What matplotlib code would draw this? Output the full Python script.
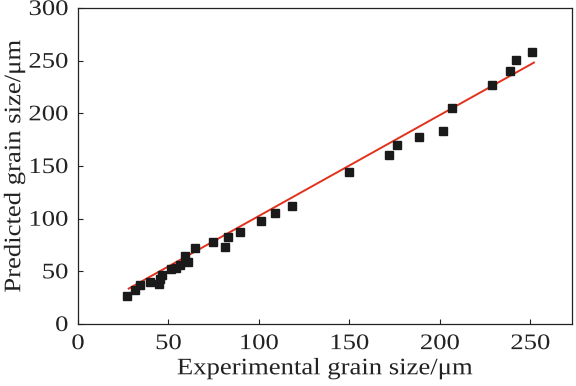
import matplotlib
matplotlib.use("Agg")
import matplotlib.pyplot as plt
import numpy as np
from matplotlib.patheffects import AbstractPathEffect
from matplotlib.transforms import Affine2D

exp_size = [27.2, 31.4, 34.3, 39.9, 44.6, 45.4, 46.6, 51.5, 54.1, 56.2, 59.4, 60.8,
            64.9, 74.6, 81.3, 83.1, 89.6, 101.0, 108.9, 118.2, 150.0, 171.9, 176.2,
            188.2, 201.7, 206.8, 228.9, 238.6, 242.3, 250.8]
pred_size = [26.6, 32.6, 37.1, 39.9, 38.0, 42.4, 46.2, 52.3, 53.2, 56.1, 64.3, 58.6,
             71.9, 77.9, 73.5, 82.7, 87.7, 97.6, 105.8, 111.8, 144.1, 160.3, 170.4,
             177.1, 183.1, 204.9, 227.1, 240.4, 250.9, 258.2]
fit_x = [28.0, 252.0]
fit_slope = 0.958
fit_intercept = 6.8

xticks = [0, 50, 100, 150, 200, 250]
yticks = [0, 50, 100, 150, 200, 250, 300]


class Stretch(AbstractPathEffect):
    """Horizontally widen text glyphs (in the text's own direction)."""
    def __init__(self, sx, anchor='center'):
        super().__init__()
        self.sx = sx
        self.anchor = anchor

    def draw_path(self, renderer, gc, tpath, affine, rgbFace=None):
        ext = tpath.get_extents()
        if self.anchor == 'right':
            c = ext.x1
        elif self.anchor == 'left':
            c = ext.x0
        else:
            c = 0.5 * (ext.x0 + ext.x1)
        t = Affine2D().translate(-c, 0).scale(self.sx, 1).translate(c, 0) + affine
        renderer.draw_path(gc, tpath, t, rgbFace)


plt.rcParams['font.family'] = ['Liberation Serif', 'DejaVu Serif']

fig = plt.figure(figsize=(5.76, 3.86), dpi=100)
ax = fig.add_axes([78/576, 62/386, (572-78)/576, (324-8)/386])

fx = np.array(fit_x)
ax.plot(fx, fit_slope*fx + fit_intercept, color='#e2311d', lw=1.4, zorder=2)
ax.plot(exp_size, pred_size, ls='none', marker='s', ms=6, color='#1a1a1a', zorder=3)

ax.set_xlim(0, 273)
ax.set_ylim(0, 300)
ax.set_xticks(xticks)
ax.set_yticks(yticks)
ax.tick_params(direction='in', length=3.5, width=0.8, labelsize=16, colors='#222222')
ax.tick_params(axis='y', pad=7)
ax.tick_params(axis='x', pad=8)
for s in ax.spines.values():
    s.set_linewidth(0.9)
    s.set_color('#222222')

for lab in ax.get_xticklabels():
    lab.set_path_effects([Stretch(1.2, 'center')])
for lab in ax.get_yticklabels():
    lab.set_path_effects([Stretch(1.2, 'right')])

ax.set_xlabel('Experimental grain size/μm', fontsize=17, color='#222222', labelpad=3,
              path_effects=[Stretch(1.13)])
ax.set_ylabel('Predicted grain size/μm', fontsize=17, color='#222222', labelpad=7,
              path_effects=[Stretch(1.13)])

fig.savefig('out.png', dpi=100)
